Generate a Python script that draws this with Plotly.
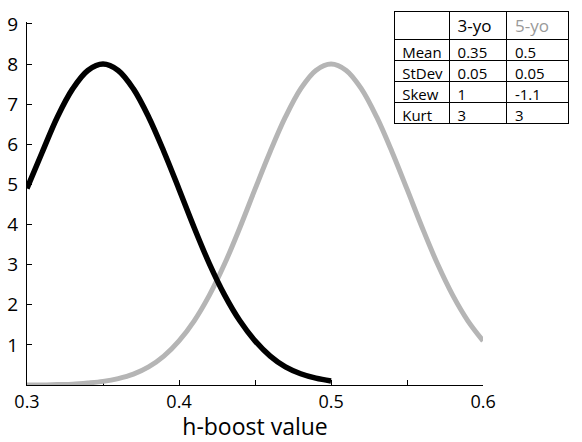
import plotly.graph_objects as go

# Data
x_black = [0.30, 0.31, 0.32, 0.33, 0.34, 0.35, 0.36, 0.37, 0.38, 0.39, 0.40,
           0.41, 0.42, 0.43, 0.44, 0.45, 0.46, 0.47, 0.48, 0.49, 0.50]
y_black = [4.9, 5.8, 6.68, 7.38, 7.84, 8.0, 7.84, 7.38, 6.68, 5.82, 4.88,
           3.92, 3.02, 2.24, 1.6, 1.1, 0.72, 0.45, 0.28, 0.17, 0.1]

x_gray = [0.30, 0.31, 0.32, 0.33, 0.34, 0.35, 0.36, 0.37, 0.38, 0.39, 0.40,
          0.41, 0.42, 0.43, 0.44, 0.45, 0.46, 0.47, 0.48, 0.49, 0.50,
          0.51, 0.52, 0.53, 0.54, 0.55, 0.56, 0.57, 0.58, 0.59, 0.60]
y_gray = [0.0, 0.0, 0.01, 0.02, 0.05, 0.09, 0.16, 0.27, 0.45, 0.72, 1.1,
          1.6, 2.24, 3.02, 3.92, 4.88, 5.82, 6.68, 7.38, 7.84, 8.0,
          7.84, 7.38, 6.68, 5.82, 4.88, 3.92, 3.02, 2.24, 1.6, 1.1]

x_tickvals = [0.30, 0.35, 0.40, 0.45, 0.50, 0.55, 0.60]
x_ticktext = ["0.3", "", "0.4", "", "0.5", "", "0.6"]
y_tickvals = [1, 2, 3, 4, 5, 6, 7, 8, 9]

table_header = ["", "3-yo", "5-yo"]
table_rows = ["Mean", "StDev", "Skew", "Kurt"]
table_3yo = ["0.35", "0.05", "1", "3"]
table_5yo = ["0.5", "0.05", "-1.1", "3"]

GRAY = "#b5b5b5"
FONT = "Open Sans"

fig = go.Figure()
fig.add_trace(go.Scatter(x=x_gray, y=y_gray, mode="lines",
                         line=dict(color=GRAY, width=5, shape="spline", smoothing=1),
                         showlegend=False, hoverinfo="skip"))
fig.add_trace(go.Scatter(x=x_black, y=y_black, mode="lines",
                         line=dict(color="black", width=5.5, shape="spline", smoothing=1),
                         showlegend=False, hoverinfo="skip"))

fig.add_trace(go.Table(
    domain=dict(x=[(403 - 27) / 555, 1.0], y=[(385 - 135) / 378, 1.0]),
    columnwidth=[57, 59, 63],
    header=dict(values=table_header, align="left", height=28,
                fill_color="white", line=dict(color="black", width=1),
                font=dict(family=FONT, size=17, color=["black", "black", "#999999"])),
    cells=dict(values=[table_rows, table_3yo, table_5yo], align="left", height=21,
               fill_color="white", line=dict(color="black", width=1),
               font=dict(family=FONT, size=15, color="black")),
))

fig.update_layout(
    width=582, height=442,
    margin=dict(l=27, r=0, t=7, b=57),
    paper_bgcolor="white", plot_bgcolor="white",
    font=dict(family=FONT, color="black"),
    xaxis=dict(domain=[0, 467 / 555], range=[0.3, 0.6],
               tickvals=x_tickvals, ticktext=x_ticktext,
               ticks="inside", ticklen=5, tickcolor="black", tickwidth=1,
               showline=True, linecolor="black", linewidth=1,
               showgrid=False, zeroline=False, layer="below traces",
               tickfont=dict(size=18), ticklabelstandoff=0,
               title=dict(text="h-boost value", font=dict(size=23), standoff=6)),
    yaxis=dict(domain=[0, (385 - 18) / 378], range=[0, 9.05],
               tickvals=y_tickvals,
               ticks="inside", ticklen=5, tickcolor="black", tickwidth=1,
               showline=True, linecolor="black", linewidth=1,
               showgrid=False, zeroline=False, layer="below traces",
               tickfont=dict(size=19), ticklabelstandoff=4),
)

fig.write_html("out.html")
